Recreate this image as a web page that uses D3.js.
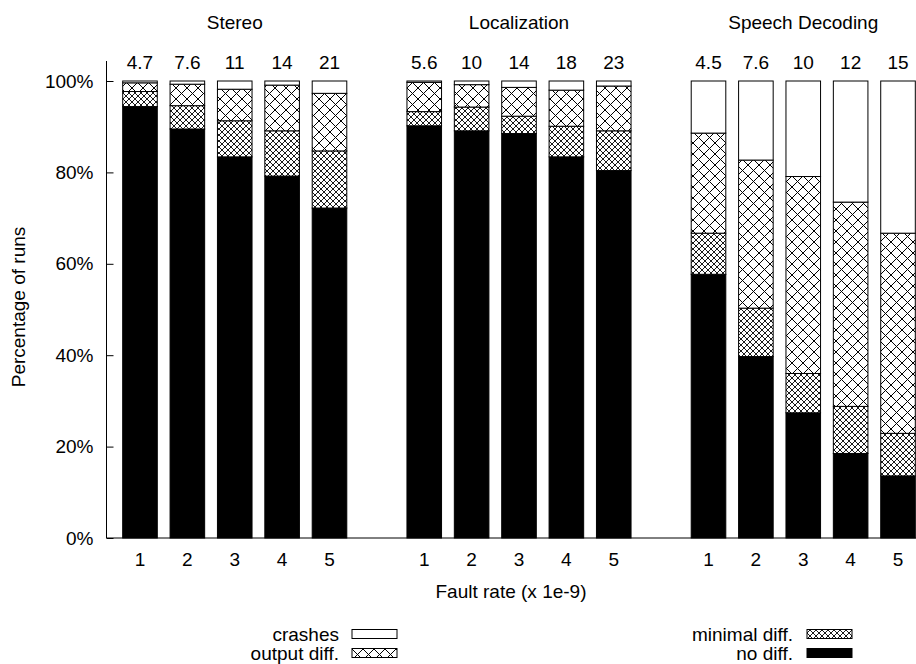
<!DOCTYPE html>
<html>
<head>
<meta charset="utf-8">
<script src="https://cdn.jsdelivr.net/npm/d3@7"></script>
<style>
  html, body { margin: 0; padding: 0; background: #fff; }
  svg { display: block; font-family: "Liberation Sans", Arial, Helvetica, sans-serif; }
</style>
</head>
<body>
<div id="chart"></div>
<script>
// ---------------- data ----------------
const groups = ["Stereo", "Localization", "Speech Decoding"];
const runLabels = ["1", "2", "3", "4", "5"];
const stereoRates = ["4.7", "7.6", "11", "14", "21"];
const localizationRates = ["5.6", "10", "14", "18", "23"];
const speechRates = ["4.5", "7.6", "10", "12", "15"];
const seriesNames = ["no diff.", "minimal diff.", "output diff.", "crashes"];
// percentages per bar (Stereo 1-5, Localization 1-5, Speech Decoding 1-5)
const noDiff      = [94.4, 89.5, 83.4, 79.2, 72.2,  90.2, 89.1, 88.5, 83.4, 80.4,  57.7, 39.7, 27.4, 18.5, 13.6];
const minimalDiff = [3.3, 5.1, 7.9, 9.9, 12.5,      3.1, 5.2, 3.8, 6.7, 8.7,       9.0, 10.6, 8.6, 10.3, 9.3];
const outputDiff  = [1.9, 4.7, 6.9, 10.0, 12.6,     6.4, 4.9, 6.3, 7.9, 9.8,       21.9, 32.4, 43.1, 44.7, 43.8];
const crashes     = [0.4, 0.7, 1.8, 0.9, 2.7,       0.3, 0.8, 1.4, 2.0, 1.1,       11.4, 17.3, 20.9, 26.5, 33.3];
const yTicks = [0, 20, 40, 60, 80, 100];

// ---------------- setup ----------------
const W = 916, H = 664;
const FONT = 19;
const svg = d3.select("#chart").append("svg").attr("width", W).attr("height", H);

const defs = svg.append("defs");
function crossPattern(id, p, sw) {
  const pat = defs.append("pattern").attr("id", id)
    .attr("patternUnits", "userSpaceOnUse").attr("width", p).attr("height", p);
  pat.append("rect").attr("width", p).attr("height", p).attr("fill", "#fff");
  pat.append("path")
    .attr("d", `M-1,-1L${p + 1},${p + 1}M${p + 1},-1L-1,${p + 1}`)
    .attr("stroke", "#000").attr("stroke-width", sw).attr("fill", "none");
}
crossPattern("bigHatch", 11, 1);
crossPattern("smallHatch", 6, 0.9);
const fills = {
  "no diff.": "#000",
  "minimal diff.": "url(#smallHatch)",
  "output diff.": "url(#bigHatch)",
  "crashes": "#fff"
};
const seriesValues = {
  "no diff.": noDiff, "minimal diff.": minimalDiff, "output diff.": outputDiff, "crashes": crashes
};
const groupRates = [stereoRates, localizationRates, speechRates];

// slots: 5 bars, gap, 5 bars, gap, 5 bars
const slots = [];
groups.forEach((g, gi) => {
  runLabels.forEach(r => slots.push(g + "|" + r));
  if (gi < groups.length - 1) slots.push("gap" + gi);
});

const x = d3.scaleBand().domain(slots).range([116.3, 921.7]).paddingInner(0.27).paddingOuter(0.135);
const y = d3.scaleLinear().domain([0, 100]).range([538, 81]);

// bar records
const bars = [];
groups.forEach((g, gi) => {
  runLabels.forEach((r, ri) => {
    const idx = gi * runLabels.length + ri;
    let acc = 0;
    const segs = seriesNames.map(s => {
      const v = seriesValues[s][idx];
      const seg = { series: s, y0: acc, y1: acc + v };
      acc += v;
      return seg;
    });
    segs[segs.length - 1].y1 = 100;
    bars.push({ key: g + "|" + r, group: g, run: r, rate: groupRates[gi][ri], segs });
  });
});

// bars
const barG = svg.append("g");
bars.forEach(b => {
  barG.selectAll(null).data(b.segs).enter().append("rect")
    .attr("x", x(b.key))
    .attr("width", x.bandwidth())
    .attr("y", d => y(d.y1))
    .attr("height", d => y(d.y0) - y(d.y1))
    .attr("fill", d => fills[d.series])
    .attr("stroke", "#000")
    .attr("stroke-width", 1);
});

// y axis
const yAxis = d3.axisRight(y).tickValues(yTicks).tickSize(7).tickFormat(d => d + "%");
const yg = svg.append("g").attr("transform", "translate(106.5,0)").call(yAxis);
yg.select(".domain").attr("d", `M0,${y(100) - 20}V${y(0)}`).attr("stroke", "#000");
yg.selectAll(".tick line").attr("stroke", "#000");
yg.selectAll(".tick text").attr("x", -13).attr("text-anchor", "end")
  .attr("font-size", FONT).attr("font-family", "Liberation Sans, Arial, sans-serif").attr("fill", "#000");

// x axis line
svg.append("line").attr("x1", 106.5).attr("x2", W).attr("y1", y(0)).attr("y2", y(0))
  .attr("stroke", "#000").attr("stroke-width", 1);

// x tick labels
svg.append("g").selectAll("text").data(bars).enter().append("text")
  .attr("x", d => x(d.key) + x.bandwidth() / 2)
  .attr("y", 566)
  .attr("text-anchor", "middle").attr("font-size", FONT)
  .text(d => d.run);

// fault rate labels above bars
svg.append("g").selectAll("text").data(bars).enter().append("text")
  .attr("x", d => x(d.key) + x.bandwidth() / 2)
  .attr("y", 69)
  .attr("text-anchor", "middle").attr("font-size", FONT)
  .text(d => d.rate);

// group titles
svg.append("g").selectAll("text").data(groups).enter().append("text")
  .attr("x", g => (x(g + "|1") + x(g + "|5") + x.bandwidth()) / 2)
  .attr("y", 29)
  .attr("text-anchor", "middle").attr("font-size", FONT)
  .text(g => g);

// axis titles
svg.append("text").attr("x", 511).attr("y", 598).attr("text-anchor", "middle")
  .attr("font-size", FONT).text("Fault rate (x 1e-9)");
svg.append("text").attr("transform", "translate(25,307) rotate(-90)")
  .attr("text-anchor", "middle").attr("font-size", FONT).text("Percentage of runs");

// legend
const legendItems = [
  { name: "crashes", tx: 339, bx: 352, row: 0 },
  { name: "output diff.", tx: 339, bx: 352, row: 1 },
  { name: "minimal diff.", tx: 793, bx: 807, row: 0 },
  { name: "no diff.", tx: 793, bx: 807, row: 1 }
];
const lg = svg.append("g");
legendItems.forEach(it => {
  const cy = 634 + it.row * 19;
  lg.append("text").attr("x", it.tx).attr("y", cy + 6.5).attr("text-anchor", "end")
    .attr("font-size", FONT).text(it.name);
  lg.append("rect").attr("x", it.bx).attr("y", cy - 4.5).attr("width", 45).attr("height", 9)
    .attr("fill", fills[it.name]).attr("stroke", "#000").attr("stroke-width", 1);
});
</script>
</body>
</html>
